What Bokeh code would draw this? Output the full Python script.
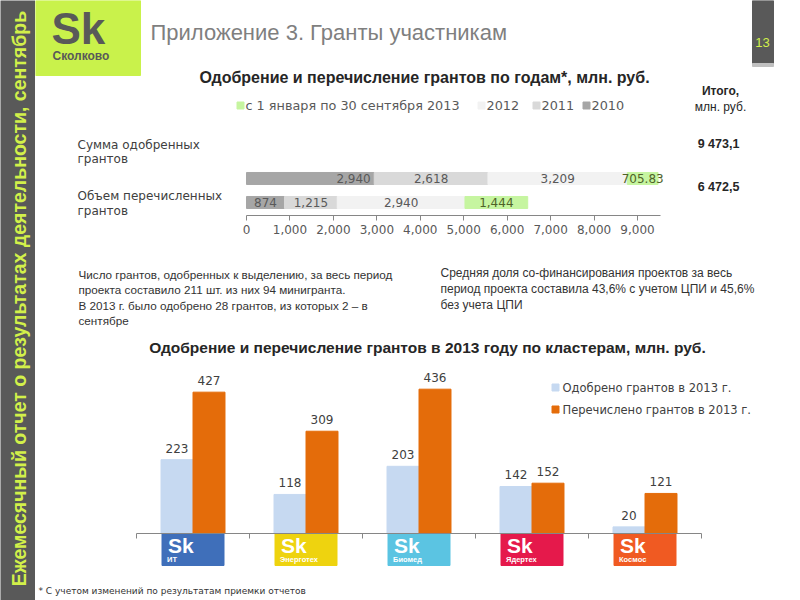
import numpy as np
from bokeh.plotting import figure
from bokeh.models import Range1d, LinearAxis, FixedTicker, NumeralTickFormatter, ColumnDataSource
from bokeh.layouts import row, column
from bokeh.core.properties import value
from bokeh.embed import file_html
from bokeh.resources import INLINE
from bokeh.transform import dodge

FONT = "Liberation Sans"
WIDE = "DejaVu Sans"

# ---------------- data ----------------
sidebar_text = "Ежемесячный отчет о результатах деятельности, сентябрь"
slide_title = "Приложение 3. Гранты участникам"
page_number = "13"

chart1_title = "Одобрение и перечисление грантов по годам*, млн. руб."
top_categories = ["Сумма одобренных грантов", "Объем перечисленных грантов"]
year_keys = ["y2010", "y2011", "y2012", "y2013"]
year_names = ["2010", "2011", "2012", "с 1 января по 30 сентября 2013"]
v2010 = [2940, 874]
v2011 = [2618, 1215]
v2012 = [3209, 2940]
v2013 = [705.83, 1444]
top_totals = ["9 473,1", "6 472,5"]
totals_header = ["Итого,", "млн. руб."]
top_ticks = [0, 1000, 2000, 3000, 4000, 5000, 6000, 7000, 8000, 9000]
year_colors = ["#a6a6a6", "#d9d9d9", "#f2f2f2", "#c6f5a0"]
year_label_colors = ["#595959", "#595959", "#595959", "#4f6228"]

note_left = ["Число грантов, одобренных к выделению, за весь период",
             "проекта составило 211 шт. из них 94 минигранта.",
             "В 2013 г. было одобрено 28 грантов, из которых 2 – в",
             "сентябре"]
note_right = ["Средняя доля со-финансирования проектов за весь",
              "период проекта составила 43,6% с учетом ЦПИ и 45,6%",
              "без учета ЦПИ"]

chart2_title = "Одобрение и перечисление грантов в 2013 году по кластерам, млн. руб."
clusters = ["ИТ", "Энерготех", "Биомед", "Ядертех", "Космос"]
approved_2013 = [223, 118, 203, 142, 20]
transferred_2013 = [427, 309, 436, 152, 121]
series_names = ["Одобрено грантов в 2013 г.", "Перечислено грантов в 2013 г."]
series_colors = ["#c6d9f1", "#e46c0a"]
cluster_colors = ["#3f6fba", "#eed30f", "#5bc4e2", "#e5194b", "#f05a22"]
footnote = "* С учетом изменений по результатам приемки отчетов"

LIME = "#d2f04a"
DARK = "#595959"


# ---------------- helpers ----------------
def canvas(w, h, x0, x1, y0, y1, xr=None, yr=None):
    p = figure(width=w, height=h,
               x_range=xr if xr is not None else Range1d(x0, x1),
               y_range=yr if yr is not None else Range1d(y1, y0),
               toolbar_location=None, tools="", output_backend="svg", min_border=0,
               x_axis_location=None, y_axis_location=None, outline_line_color=None,
               background_fill_color="white", border_fill_color="white")
    p.grid.visible = False
    if xr is not None:
        p.extra_x_ranges = {"px": Range1d(x0, x1)}
        p.extra_y_ranges = {"px": Range1d(y1, y0)}
    return p


def txt(p, x, y, s, size=11, color="#333333", bold=False, align="left",
        baseline="middle", angle=0.0, px=False, font=FONT):
    kw = dict(x_range_name="px", y_range_name="px") if px else {}
    p.text(x=[x], y=[y], text=[s], text_font=value(font),
           text_font_size=f"{size}px", text_color=color,
           text_font_style="bold" if bold else "normal",
           text_align=align, text_baseline=baseline, angle=angle, **kw)


def fmt(v):
    return f"{v:,.0f}" if float(v).is_integer() else f"{v:,.2f}"


# ---------------- sidebar ----------------
side = canvas(35, 600, 0, 35, 0, 600)
side.background_fill_color = DARK
side.border_fill_color = DARK
txt(side, 18, 298, sidebar_text, size=19.5, color=LIME, bold=True,
    align="center", angle=np.pi / 2)

# ---------------- band A : header ----------------
A = canvas(765, 125, 35, 800, 0, 125)
A.quad(left=[35], right=[140], top=[0], bottom=[75], color="#c9f24b")
txt(A, 51, 28, "Sk", size=44, color=DARK, bold=True)
txt(A, 52, 55, "Сколково", size=12, color=DARK, bold=True)
txt(A, 150, 32, slide_title, size=22, color="#7f7f7f")
A.quad(left=[752], right=[773], top=[0], bottom=[63], color=DARK)
A.quad(left=[752], right=[773], top=[63], bottom=[66], color="#c0c0c0")
txt(A, 762, 42, page_number, size=13, color=LIME, align="center")
txt(A, 424, 77, chart1_title, size=16, bold=True, color="#262626", align="center")
legend_x = [240, 481, 536, 586]
for lx, name, col in zip(legend_x, year_names[::-1], year_colors[::-1]):
    A.rect(x=[lx], y=[105], width=7, height=7, color=col)
    txt(A, lx + 5, 105, name, size=12.8, color="#595959", font=WIDE)
txt(A, 720, 90, totals_header[0], size=12, bold=True, color="#262626", align="center")
txt(A, 720, 106, totals_header[1], size=12, color="#262626", align="center")

# ---------------- band B : stacked bars ----------------
KB = 391 / 9000.0
B = canvas(765, 120, 35, 800, 125, 245,
           xr=Range1d(-(246 - 35) / KB, (800 - 246) / KB),
           yr=Range1d(2.792, -2.208))
rows = list(range(len(top_categories)))
srcB = ColumnDataSource(dict(row=rows, y2010=v2010, y2011=v2011, y2012=v2012, y2013=v2013))
B.hbar_stack(year_keys, y="row", height=0.5, color=year_colors, source=srcB)

lab = dict(x=[], y=[], text=[], color=[], align=[])
series = [v2010, v2011, v2012, v2013]
for r in rows:
    start = 0.0
    for j, s in enumerate(series):
        v = s[r]
        if r == 0 and j == 0:
            lab["x"].append(start + v - 80)
            lab["align"].append("right")
        else:
            lab["x"].append(start + v / 2)
            lab["align"].append("center")
        lab["y"].append(r)
        lab["text"].append(fmt(v))
        lab["color"].append(year_label_colors[j])
        start += v
B.text(x="x", y="y", text="text", text_color="color", text_align="align",
       text_baseline="middle", text_font=value(WIDE), text_font_size="12px",
       source=ColumnDataSource(lab))

axB = LinearAxis(fixed_location=(215 - 178) / 24.0, bounds=(0, 9530),
                 ticker=FixedTicker(ticks=top_ticks),
                 formatter=NumeralTickFormatter(format="0,0"))
axB.axis_line_color = "#868686"
axB.major_tick_line_color = "#868686"
axB.major_tick_in = 0
axB.major_tick_out = 5
axB.minor_tick_line_color = None
axB.major_label_text_font = WIDE
axB.major_label_text_font_size = "12px"
axB.major_label_text_color = "#595959"
axB.major_label_standoff = 5
B.add_layout(axB, "below")

label_lines_y = [(144, 158), (195, 210)]
for cat, ys in zip(top_categories, label_lines_y):
    l1, l2 = cat.rsplit(" ", 1)
    txt(B, 77, ys[0], l1, size=12, color="#404040", px=True, font=WIDE)
    txt(B, 77, ys[1], l2, size=12, color="#404040", px=True, font=WIDE)
for tot, ty in zip(top_totals, (143, 186)):
    txt(B, 718, ty, tot, size=12.5, bold=True, color="#262626", align="center", px=True)

# ---------------- band C : notes ----------------
C = canvas(765, 90, 35, 800, 245, 335)
for t, ty in zip(note_left, (274, 289, 305, 320)):
    txt(C, 78, ty, t, size=11.7, color="#333333")
for t, ty in zip(note_right, (272, 288, 304)):
    txt(C, 440, ty, t, size=12, color="#333333")

# ---------------- band D : clustered bars ----------------
n = len(clusters)
KD = 113.0
KY = 0.331
D = canvas(765, 265, 35, 800, 335, 600,
           xr=Range1d(-(136 - 35) / KD, n + (800 - 701) / KD),
           yr=Range1d(-(600 - 533) / KY, (533 - 335) / KY))
srcD = ColumnDataSource(dict(
    x=[i + 0.5 for i in range(n)], a=approved_2013, t=transferred_2013,
    a_lbl=[fmt(v) for v in approved_2013], t_lbl=[fmt(v) for v in transferred_2013],
    cluster=clusters, color=cluster_colors))
off = 0.1416
D.vbar(x=dodge("x", -off), top="a", width=0.283, color=series_colors[0], source=srcD)
D.vbar(x=dodge("x", off), top="t", width=0.283, color=series_colors[1], source=srcD)
D.text(x=dodge("x", -off), y="a", text="a_lbl", text_align="center", text_baseline="bottom",
       y_offset=-7, text_font=value(WIDE), text_font_size="12px", text_color="#404040", source=srcD)
D.text(x=dodge("x", off), y="t", text="t_lbl", text_align="center", text_baseline="bottom",
       y_offset=-7, text_font=value(WIDE), text_font_size="12px", text_color="#404040", source=srcD)

# cluster logos under the axis
D.rect(x="x", y=549, width=62, height=32, width_units="screen", height_units="screen",
       color="color", source=srcD, y_range_name="px")
D.text(x="x", y=545, text=value("Sk"), x_offset=-25, text_align="left", text_baseline="middle",
       text_font=value(FONT), text_font_size="21px", text_font_style="bold", text_color="white",
       source=srcD, y_range_name="px")
D.text(x="x", y=559, text="cluster", x_offset=-26, text_align="left", text_baseline="middle",
       text_font=value(FONT), text_font_size="7.5px", text_font_style="bold", text_color="white",
       source=srcD, y_range_name="px")

axD = LinearAxis(fixed_location=0, bounds=(0, n), ticker=FixedTicker(ticks=list(range(n + 1))))
axD.axis_line_color = "#868686"
axD.major_tick_line_color = "#868686"
axD.major_tick_in = 0
axD.major_tick_out = 5
axD.minor_tick_line_color = None
axD.major_label_overrides = {i: "" for i in range(n + 1)}
D.add_layout(axD, "below")

txt(D, 427, 347, chart2_title, size=15.5, bold=True, color="#262626", align="center", px=True)
for name, col, ly in zip(series_names, series_colors, (387, 409)):
    D.rect(x=[555], y=[ly], width=7, height=7, color=col, x_range_name="px", y_range_name="px")
    txt(D, 562, ly, name, size=11.5, color="#404040", px=True, font=WIDE)
txt(D, 38, 590, footnote, size=9, color="#333333", px=True, font=WIDE)

layout = row(side, column(A, B, C, D))
open("out.html", "w").write(file_html(layout, INLINE))
